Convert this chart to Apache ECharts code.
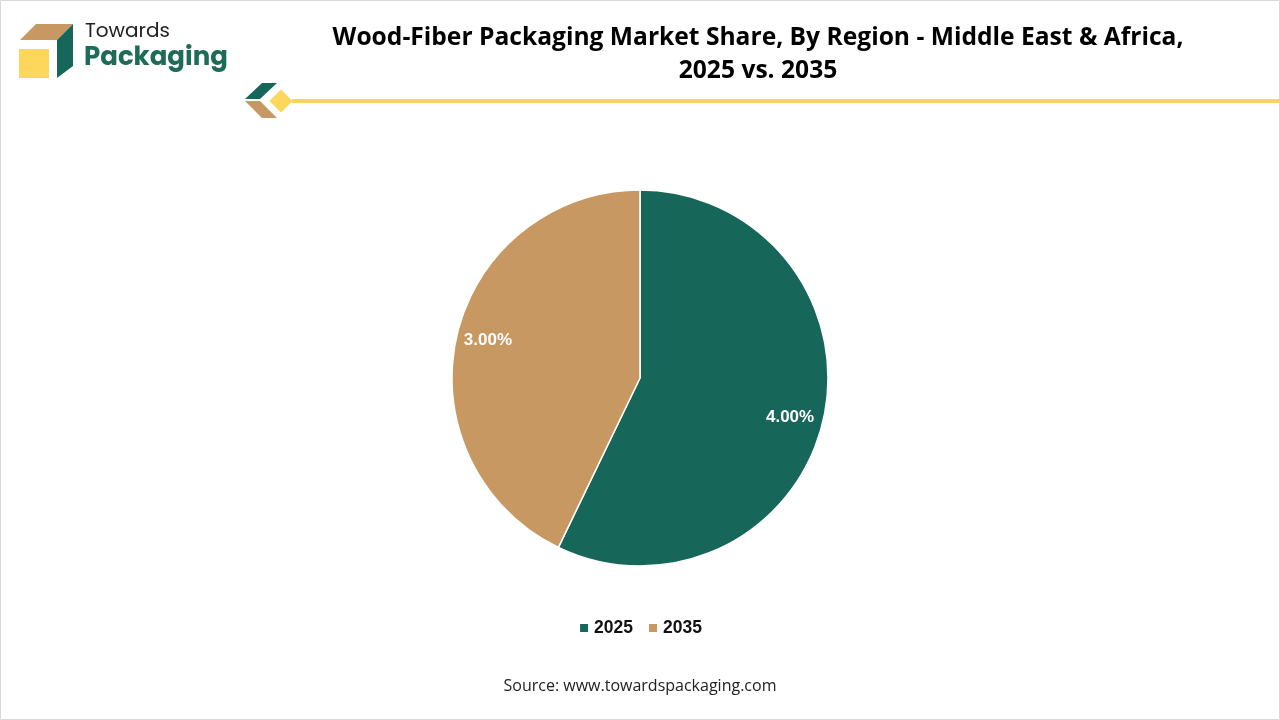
<!DOCTYPE html>
<html><head><meta charset="utf-8">
<script src="https://cdn.jsdelivr.net/npm/echarts@6/dist/echarts.min.js"></script>
<style>html,body{margin:0;padding:0;background:#fff}#c{width:1280px;height:720px}</style>
</head><body><div id="c"></div>
<script>
const categories = ['2025', '2035'];
const shareValues = [4.00, 3.00];
const colors = ['#17665A', '#C89862'];
const titleLines = ['Wood-Fiber Packaging Market Share, By Region - Middle East & Africa,', '2025 vs. 2035'];
const sourceText = 'Source: www.towardspackaging.com';

const chart = echarts.init(document.getElementById('c'), null, {renderer: 'canvas'});
const data = categories.map((c, i) => ({name: c, value: shareValues[i], itemStyle: {color: colors[i]}}));
chart.setOption({
  animation: false,
  backgroundColor: '#fff',
  legend: {
    data: categories, top: 614, left: 'center', icon: 'rect', itemWidth: 10, itemHeight: 10, itemGap: 14,
    textStyle: {fontFamily: 'Liberation Sans, Arial', fontWeight: 'bold', fontSize: 17.5, color: '#111'}
  },
  series: [{
    type: 'pie', center: [640, 378], radius: [0, 188], startAngle: 90, clockwise: true,
    label: {show: false}, labelLine: {show: false}, silent: true,
    itemStyle: {borderColor: '#fff', borderWidth: 1.5},
    data: data
  }, {
    type: 'pie', center: [640, 378], radius: [118, 188], startAngle: 90, clockwise: true, silent: true,
    itemStyle: {color: 'rgba(0,0,0,0)', borderWidth: 0},
    label: {show: true, position: 'inside', formatter: p => p.value.toFixed(2) + '%', color: '#fff',
      fontFamily: 'Liberation Sans, Arial', fontWeight: 'bold', fontSize: 17},
    labelLine: {show: false},
    data: categories.map((c, i) => ({name: c, value: shareValues[i], itemStyle: {color: 'rgba(0,0,0,0)'},
      label: {offset: i === 0 ? [-2, 5] : [0, -3]}}))
  }],
  graphic: [
    {type: 'rect', shape: {x: 0.5, y: 0.5, width: 1279, height: 719}, style: {fill: 'none', stroke: '#d9d9d9', lineWidth: 1}},
    // logo
    {type: 'polygon', shape: {points: [[20, 40], [36, 24], [73, 24], [57, 40]]}, style: {fill: '#C89862'}},
    {type: 'polygon', shape: {points: [[57, 40], [73, 24], [73, 66], [57, 78]]}, style: {fill: '#17665A'}},
    {type: 'rect', shape: {x: 19, y: 49, width: 30, height: 29}, style: {fill: '#FDD65C'}},
    {type: 'text', x: 85, y: 32, style: {text: 'Towards', fontFamily: 'Poppins, Lato, Liberation Sans', fontSize: 20, fill: '#222', verticalAlign: 'middle'}},
    {type: 'text', x: 84, y: 58, style: {text: 'Packaging', fontFamily: 'Poppins, Lato, Liberation Sans', fontWeight: 'bold', fontSize: 26, fill: '#1E6B57', verticalAlign: 'middle'}},
    // decoration
    {type: 'polygon', shape: {points: [[245, 99], [262, 83], [277, 83], [260, 99]]}, style: {fill: '#17665A'}},
    {type: 'polygon', shape: {points: [[245, 101], [260, 101], [277, 118], [262, 118]]}, style: {fill: '#C89862'}},
    {type: 'polygon', shape: {points: [[281, 88], [294, 101], [281, 114], [268, 101]]}, style: {fill: '#FDD65C', stroke: '#fff', lineWidth: 2}},
    {type: 'rect', shape: {x: 292, y: 99, width: 988, height: 4}, style: {fill: '#F7D55C'}},
    // title
    {type: 'text', x: 758, y: 38, style: {text: titleLines[0], fontFamily: 'Open Sans, Liberation Sans', fontWeight: 'bold', fontSize: 24.6, fill: '#000', align: 'center', verticalAlign: 'middle'}},
    {type: 'text', x: 758, y: 71, style: {text: titleLines[1], fontFamily: 'Open Sans, Liberation Sans', fontWeight: 'bold', fontSize: 24.6, fill: '#000', align: 'center', verticalAlign: 'middle'}},
    // source
    {type: 'text', x: 640, y: 686, style: {text: sourceText, fontFamily: 'Open Sans, Liberation Sans', fontSize: 16, fill: '#222', align: 'center', verticalAlign: 'middle'}}
  ]
});
</script></body></html>
